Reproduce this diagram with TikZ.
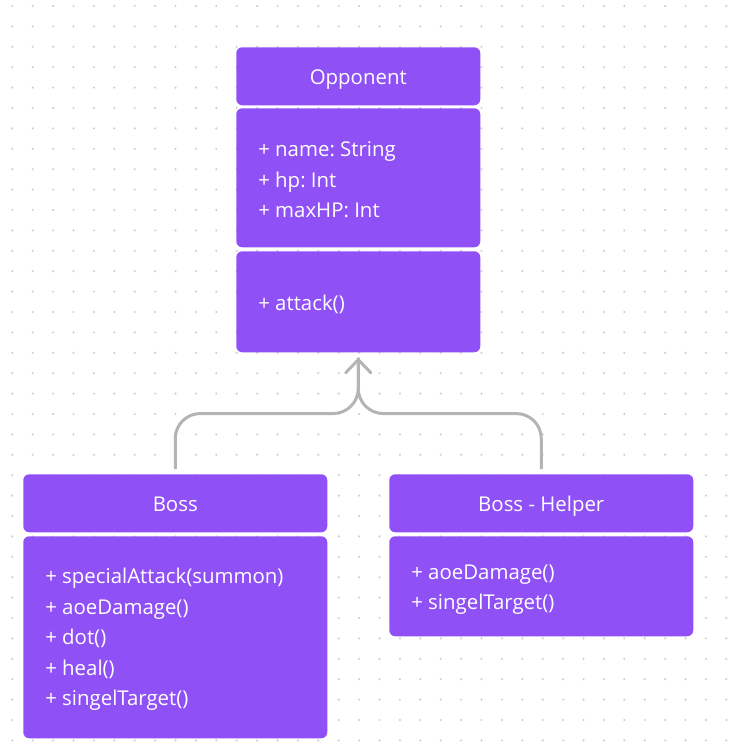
\documentclass[tikz,border=0pt]{standalone}
\usepackage{fontspec}
\setmainfont{Open Sans}
\usetikzlibrary{positioning, arrows.meta, calc}

\definecolor{classpurple}{RGB}{143,80,246}
\definecolor{linkgray}{RGB}{180,180,180}
\definecolor{dotgray}{RGB}{208,208,208}

\begin{document}
\frenchspacing
\begin{tikzpicture}[
    x=0.75pt, y=-0.75pt,
    classbox/.style={fill=classpurple, rounded corners=4.5pt, inner sep=0pt,
        text=white, font=\fontsize{15.3}{22.9}\selectfont, anchor=north west},
    header/.style={classbox, minimum height=43.5pt, align=center, text height=13pt, text depth=0pt},
    memberlist/.style={inner sep=0pt, text=white, font=\fontsize{15.3}{22.9}\selectfont,
        align=left, anchor=west},
    link/.style={line width=2.25pt, linkgray, rounded corners=18.75pt},
    inherit/.style={-{Straight Barb[length=9.75pt, width=18.75pt, line cap=round]}}
]
    \useasboundingbox (0,0) rectangle (730,752);

    % Dot grid
    \foreach \i in {0,...,35} {
        \foreach \j in {0,...,36} {
            \fill[dotgray] (12.3+20.4*\i, 6+20.4*\j) circle (0.9pt);
        }
    }

    % Opponent
    \node[header, minimum width=183pt] (opphead) at (236,47) {Opponent};
    \node[classbox, minimum width=183pt, minimum height=104.25pt] (oppattr) at (236,108) {};
    \node[memberlist] (oppattrtext) at ([xshift=16.5pt, yshift=-1.6pt]oppattr.west)
        {+ name: String\\+ hp: Int\\+ maxHP: Int};
    \node[classbox, minimum width=183pt, minimum height=75.75pt] (oppmeth) at (236,251) {};
    \node[memberlist] (oppmethtext) at ([xshift=16.5pt, yshift=-1.6pt]oppmeth.west) {+ attack()};

    % Boss
    \node[header, minimum width=228pt] (bosshead) at (23,474) {Boss};
    \node[classbox, minimum width=228pt, minimum height=151.5pt] (bossbody) at (23,536) {};
    \node[memberlist] (bossbodytext) at ([xshift=16.5pt, yshift=-1.6pt]bossbody.west)
        {+ specialAttack(summon)\\+ aoeDamage()\\+ dot()\\+ heal()\\+ singelTarget()};

    % Boss - Helper
    \node[header, minimum width=228pt] (helperhead) at (389,474) {Boss - Helper};
    \node[classbox, minimum width=228pt, minimum height=75pt] (helperbody) at (389,536) {};
    \node[memberlist] (helperbodytext) at ([xshift=16.5pt, yshift=-2.6pt]helperbody.west)
        {+ aoeDamage()\\+ singelTarget()};

    % Inheritance
    \coordinate (join) at ($(oppmeth.south)+(0,61)$);
    \draw[link] ([yshift=3.75pt]helperhead.north) |- (join) -- ([yshift=-3.75pt]oppmeth.south);
    \draw[link, inherit] ([yshift=3.75pt]bosshead.north) |- (join) -- ([yshift=-3.75pt]oppmeth.south);
\end{tikzpicture}
\end{document}
